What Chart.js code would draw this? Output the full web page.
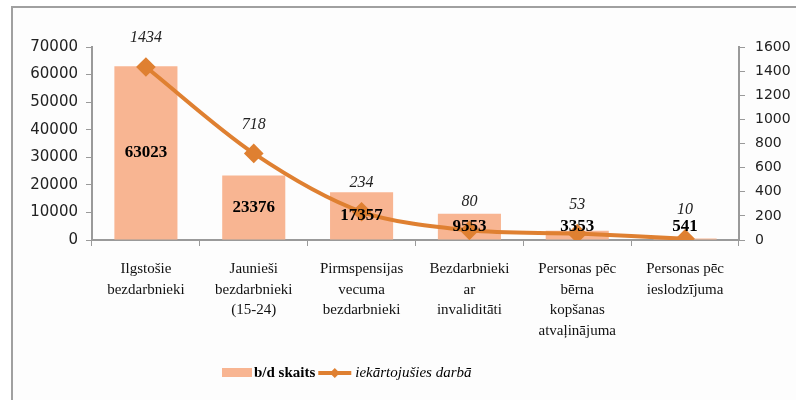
<!DOCTYPE html>
<html>
<head>
<meta charset="utf-8">
<script src="https://cdn.jsdelivr.net/npm/chart.js@4"></script>
<style>
    html, body { margin: 0; padding: 0; background: #fff; }
    #wrap { position: relative; width: 796px; height: 400px; }
    #frame {
        position: absolute; left: 11px; top: 6px; right: 0; bottom: 0;
        border-top: 2px solid #a0a0a0; border-left: 2px solid #a0a0a0;
        background: #fdfdfd;
    }
    canvas { position: absolute; left: 0; top: 0; }
</style>
</head>
<body>
<div id="wrap">
    <div id="frame"></div>
    <canvas id="chart" width="796" height="400"></canvas>
</div>
<script>
// dati
const categories = [
    ['Ilgstošie', 'bezdarbnieki'],
    ['Jaunieši', 'bezdarbnieki', '(15-24)'],
    ['Pirmspensijas', 'vecuma', 'bezdarbnieki'],
    ['Bezdarbnieki', 'ar', 'invaliditāti'],
    ['Personas pēc', 'bērna', 'kopšanas', 'atvaļinājuma'],
    ['Personas pēc', 'ieslodzījuma']
];
const unemployed = [63023, 23376, 17357, 9553, 3353, 541];
const employed = [1434, 718, 234, 80, 53, 10];
const leftTicks = [0, 10000, 20000, 30000, 40000, 50000, 60000, 70000];
const rightTicks = [0, 200, 400, 600, 800, 1000, 1200, 1400, 1600];

const barColor = '#f8b592';
const lineColor = '#df8031';
const serif = '"Liberation Serif", "Times New Roman", serif';
const sans = '"DejaVu Sans", Verdana, sans-serif';

// vērtību uzraksti uz stabiņiem un līnijas
const valueLabels = {
    id: 'valueLabels',
    afterDatasetsDraw(chart) {
        const ctx = chart.ctx;
        ctx.save();
        ctx.textAlign = 'center';
        ctx.textBaseline = 'middle';

        const bars = chart.getDatasetMeta(1).data;
        ctx.font = 'bold 17px ' + serif;
        ctx.fillStyle = '#000';
        bars.forEach((bar, i) => {
            const y = Math.min((bar.y + bar.base) / 2, bar.base - 13);
            ctx.fillText(unemployed[i], bar.x, y);
        });

        const points = chart.getDatasetMeta(0).data;
        ctx.font = 'italic 16px ' + serif;
        ctx.fillStyle = '#222';
        points.forEach((pt, i) => {
            ctx.fillText(employed[i], pt.x, pt.y - 29);
        });
        ctx.restore();
    }
};

// leģenda
const customLegend = {
    id: 'customLegend',
    afterDraw(chart) {
        const ctx = chart.ctx;
        const y = 373;
        let x = 222;
        ctx.save();
        ctx.textBaseline = 'middle';
        ctx.textAlign = 'left';

        ctx.fillStyle = barColor;
        ctx.fillRect(x, y - 5, 30, 9);
        x += 32;
        ctx.font = 'bold 15px ' + serif;
        ctx.fillStyle = '#000';
        ctx.fillText('b/d skaits', x, y);
        x += ctx.measureText('b/d skaits').width + 3;

        ctx.strokeStyle = lineColor;
        ctx.lineWidth = 4;
        ctx.beginPath();
        ctx.moveTo(x, y);
        ctx.lineTo(x + 33, y);
        ctx.stroke();
        ctx.fillStyle = lineColor;
        ctx.beginPath();
        ctx.moveTo(x + 16.5, y - 5);
        ctx.lineTo(x + 21.5, y);
        ctx.lineTo(x + 16.5, y + 5);
        ctx.lineTo(x + 11.5, y);
        ctx.closePath();
        ctx.fill();
        x += 37;

        ctx.font = 'italic 15px ' + serif;
        ctx.fillStyle = '#000';
        ctx.fillText('iekārtojušies darbā', x, y);
        ctx.restore();
    }
};

const ctx = document.getElementById('chart').getContext('2d');
new Chart(ctx, {
    type: 'bar',
    data: {
        labels: categories,
        datasets: [
            {
                type: 'line',
                label: 'iekārtojušies darbā',
                data: employed,
                yAxisID: 'y1',
                borderColor: lineColor,
                backgroundColor: lineColor,
                borderWidth: 4,
                tension: 0.3,
                pointStyle: 'rectRot',
                pointRadius: 7,
                pointHoverRadius: 7,
                order: 0
            },
            {
                label: 'b/d skaits',
                data: unemployed,
                yAxisID: 'y',
                backgroundColor: barColor,
                categoryPercentage: 1,
                barPercentage: 0.585,
                order: 1
            }
        ]
    },
    options: {
        responsive: false,
        animation: false,
        layout: {
            padding: { top: 47, left: 0, right: 0, bottom: 0 }
        },
        plugins: {
            legend: { display: false },
            tooltip: { enabled: false }
        },
        scales: {
            x: {
                grid: {
                    offset: true,
                    drawOnChartArea: false,
                    drawTicks: true,
                    tickLength: 6,
                    color: '#9a9a9a'
                },
                border: { color: '#9a9a9a', width: 2 },
                ticks: {
                    maxRotation: 0,
                    autoSkip: false,
                    padding: 13,
                    color: '#111',
                    font: { family: serif, size: 15, lineHeight: 1.37 }
                },
                afterFit: scale => { scale.height = 160; }
            },
            y: {
                position: 'left',
                min: 0,
                max: leftTicks[leftTicks.length - 1],
                afterBuildTicks: scale => {
                    scale.ticks = leftTicks.map(v => ({ value: v }));
                },
                grid: {
                    drawOnChartArea: false,
                    tickLength: 6,
                    color: '#9a9a9a'
                },
                border: { color: '#9a9a9a', width: 2 },
                ticks: {
                    padding: 8,
                    color: '#222',
                    font: { family: sans, size: 15 },
                    callback: value => String(value)
                },
                afterFit: scale => { scale.width = 92; }
            },
            y1: {
                position: 'right',
                min: 0,
                max: rightTicks[rightTicks.length - 1],
                afterBuildTicks: scale => {
                    scale.ticks = rightTicks.map(v => ({ value: v }));
                },
                grid: {
                    drawOnChartArea: false,
                    tickLength: 6,
                    color: '#9a9a9a'
                },
                border: { color: '#9a9a9a', width: 2 },
                ticks: {
                    padding: 10,
                    color: '#222',
                    font: { family: sans, size: 14 },
                    callback: value => String(value)
                },
                afterFit: scale => { scale.width = 57; }
            }
        }
    },
    plugins: [valueLabels, customLegend]
});
</script>
</body>
</html>
